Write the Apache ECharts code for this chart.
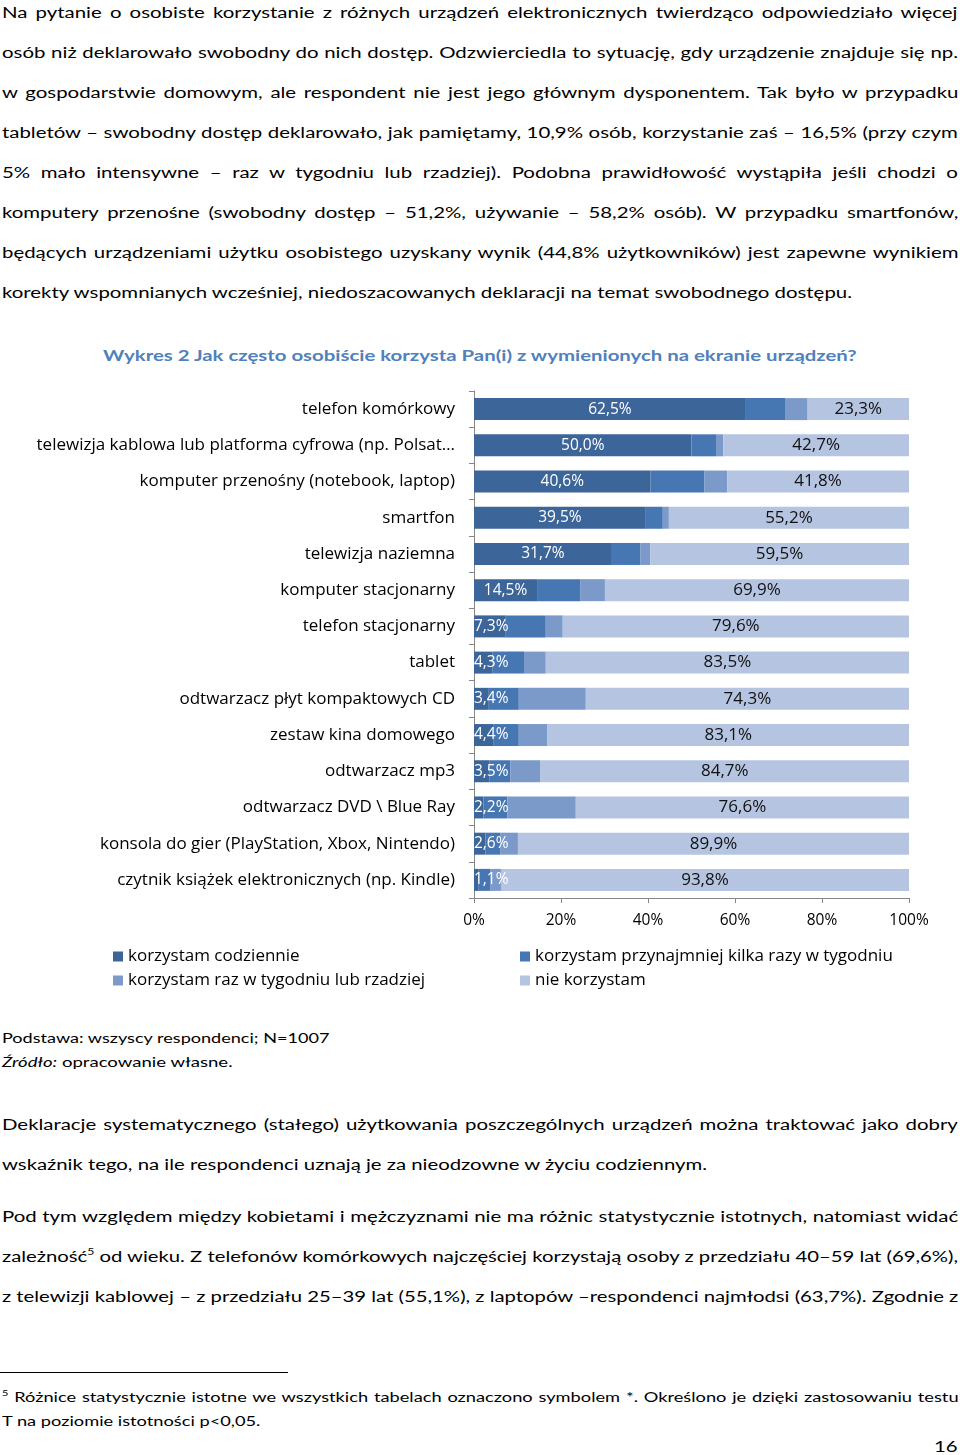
<!DOCTYPE html>
<html>
<head>
<meta charset="utf-8">
<script src="https://cdn.jsdelivr.net/npm/echarts@6/dist/echarts.min.js"></script>
<style>
body{margin:0;width:960px;height:1455px;position:relative;background:#fff;font-family:Lato,'Noto Sans',sans-serif;color:#000;overflow:hidden}
.ln{position:absolute;left:2px;white-space:nowrap;line-height:24px;height:24px;transform-origin:0 50%}
.ln span{display:inline-block}
.ln sup{font-size:0.6em;line-height:0;vertical-align:0.75em}
.body{font-size:15.5px}
.small{font-size:13.5px}
.title{font-size:15.5px;font-weight:bold;color:#4f81bd}
#rule{position:absolute;left:0;top:1372px;width:288px;height:1px;background:#000}
#chart{position:absolute;left:0;top:380px;width:960px;height:640px}
</style>
</head>
<body>
<div id="chart"></div>
<div id="rule"></div>
<script>
// ---- chart data ----
const categories = [
  'telefon komórkowy',
  'telewizja kablowa lub platforma cyfrowa (np. Polsat…',
  'komputer przenośny (notebook, laptop)',
  'smartfon',
  'telewizja naziemna',
  'komputer stacjonarny',
  'telefon stacjonarny',
  'tablet',
  'odtwarzacz płyt kompaktowych CD',
  'zestaw kina domowego',
  'odtwarzacz mp3',
  'odtwarzacz DVD \\ Blue Ray',
  'konsola do gier (PlayStation, Xbox, Nintendo)',
  'czytnik książek elektronicznych (np. Kindle)'
];
const seriesNames = [
  'korzystam codziennie',
  'korzystam przynajmniej kilka razy w tygodniu',
  'korzystam raz w tygodniu lub rzadziej',
  'nie korzystam'
];
const daily          = [62.5, 50.0, 40.6, 39.5, 31.7, 14.5, 7.3, 4.3, 3.4, 4.4, 3.5, 2.2, 2.6, 1.1];
const fewTimesWeek   = [9.0, 5.8, 12.4, 3.9, 6.5, 9.9, 9.2, 7.2, 6.9, 5.9, 4.9, 5.5, 3.4, 2.6];
const onceWeekOrLess = [5.2, 1.5, 5.2, 1.4, 2.3, 5.7, 3.9, 5.0, 15.4, 6.6, 6.9, 15.7, 4.1, 2.5];
const notUsing       = [23.3, 42.7, 41.8, 55.2, 59.5, 69.9, 79.6, 83.5, 74.3, 83.1, 84.7, 76.6, 89.9, 93.8];
const xTicks = [0, 20, 40, 60, 80, 100];

// ---- page text ----
const lines = [
 {t:'Na pytanie o osobiste korzystanie z różnych urządzeń elektronicznych twierdząco odpowiedziało więcej', y:12, c:'body', j:1},
 {t:'osób niż deklarowało swobodny do nich dostęp. Odzwierciedla to sytuację, gdy urządzenie znajduje się np.', y:52, c:'body', j:1},
 {t:'w gospodarstwie domowym, ale respondent nie jest jego głównym dysponentem. Tak było w przypadku', y:92, c:'body', j:1},
 {t:'tabletów – swobodny dostęp deklarowało, jak pamiętamy, 10,9% osób, korzystanie zaś – 16,5% (przy czym', y:132, c:'body', j:1},
 {t:'5% mało intensywne – raz w tygodniu lub rzadziej). Podobna prawidłowość wystąpiła jeśli chodzi o', y:172, c:'body', j:1},
 {t:'komputery przenośne (swobodny dostęp – 51,2%, używanie – 58,2% osób). W przypadku smartfonów,', y:212, c:'body', j:1},
 {t:'będących urządzeniami użytku osobistego uzyskany wynik (44,8% użytkowników) jest zapewne wynikiem', y:252, c:'body', j:1},
 {t:'korekty wspomnianych wcześniej, niedoszacowanych deklaracji na temat swobodnego dostępu.', y:292, c:'body', end:852, ref:1},
 {t:'Wykres 2 Jak często osobiście korzysta Pan(i) z wymienionych na ekranie urządzeń?', y:355, c:'title', left:103, end:857},
 {t:'Podstawa: wszyscy respondenci; N=1007', y:1038, c:'small', end:330},
 {t:'<i>Źródło:</i> opracowanie własne.', y:1062, c:'small', end:233},
 {t:'Deklaracje systematycznego (stałego) użytkowania poszczególnych urządzeń można traktować jako dobry', y:1124, c:'body', j:1},
 {t:'wskaźnik tego, na ile respondenci uznają je za nieodzowne w życiu codziennym.', y:1164, c:'body', end:707},
 {t:'Pod tym względem między kobietami i mężczyznami nie ma różnic statystycznie istotnych, natomiast widać', y:1216, c:'body', j:1},
 {t:'zależność<sup>5</sup> od wieku. Z telefonów komórkowych najczęściej korzystają osoby z przedziału 40–59 lat (69,6%),', y:1256, c:'body', j:1},
 {t:'z telewizji kablowej – z przedziału 25–39 lat (55,1%), z laptopów –respondenci najmłodsi (63,7%). Zgodnie z', y:1296, c:'body', j:1},
 {t:'<sup>5</sup> Różnice statystycznie istotne we wszystkich tabelach oznaczono symbolem *. Określono je dzięki zastosowaniu testu', y:1397, c:'small', j:1},
 {t:'T na poziomie istotności p&lt;0,05.', y:1421, c:'small', end:260, ref:1},
 {t:'16', y:1446, c:'body', right:958}
];

const els = lines.map(l => {
  const d = document.createElement('div');
  d.className = 'ln ' + l.c;
  d.style.top = (l.y - 12) + 'px';
  if (l.left != null) d.style.left = l.left + 'px';
  d.innerHTML = '<span>' + l.t + '</span>';
  document.body.appendChild(d);
  return d;
});
function fit() {
  els.forEach(el => { el.style.transform = 'none'; el.firstChild.style.wordSpacing = '0px'; });
  const scale = {};
  lines.forEach((l, i) => {
    if (l.ref) scale[l.c] = (l.end - 2) / els[i].firstChild.offsetWidth;
  });
  scale.title = scale.body;
  lines.forEach((l, i) => {
    const el = els[i];
    const span = el.firstChild;
    const w = span.offsetWidth;
    const S = scale[l.c] || 1.3;
    if (l.j) {
      const spaces = (span.textContent.match(/ /g) || []).length;
      const need = 956 / S - w;
      if (need >= 0 && spaces) {
        span.style.wordSpacing = (need / spaces) + 'px';
        el.style.transform = 'scaleX(' + S + ')';
      } else {
        el.style.transform = 'scaleX(' + (956 / w) + ')';
      }
    } else if (l.right != null) {
      el.style.left = (l.right - w * S) + 'px';
      el.style.transform = 'scaleX(' + S + ')';
    } else {
      const left = l.left != null ? l.left : 2;
      el.style.transform = 'scaleX(' + ((l.end - left) / w) + ')';
    }
  });
}
fit();
if (document.fonts && document.fonts.ready) document.fonts.ready.then(fit);

// ---- chart ----
const colors = ['#3c6599', '#4777b3', '#7b9aca', '#b5c4e0'];
const fmt = p => p.value.toFixed(1).replace('.', ',') + '%';
const FF = '"Open Sans", Lato, sans-serif';
const chart = echarts.init(document.getElementById('chart'), null, {renderer: 'canvas'});
const dailyData = daily.map(v => v < 9 ? {value: v, label: {position: 'insideLeft', distance: 0}} : v);
const legendBase = {orient: 'vertical', top: 563, icon: 'rect', itemWidth: 10, itemHeight: 10, itemGap: 7,
  textStyle: {fontSize: 17, color: '#000', fontFamily: FF}};
chart.setOption({
  animation: false,
  color: colors,
  textStyle: {fontFamily: FF},
  grid: {left: 474, top: 11, width: 435, height: 507},
  legend: [
    Object.assign({data: [seriesNames[0], seriesNames[2]], left: 108}, legendBase),
    Object.assign({data: [seriesNames[1], seriesNames[3]], left: 515}, legendBase)
  ],
  xAxis: {
    type: 'value', min: xTicks[0], max: xTicks[xTicks.length - 1], interval: xTicks[1] - xTicks[0],
    axisLine: {show: true, lineStyle: {color: '#868686'}},
    axisTick: {show: true, length: 5, lineStyle: {color: '#868686'}},
    splitLine: {show: false},
    axisLabel: {formatter: '{value}%', fontSize: 15.5, color: '#000', margin: 15, fontFamily: FF}
  },
  yAxis: {
    type: 'category', data: categories, inverse: true,
    axisLine: {show: true, lineStyle: {color: '#868686'}},
    axisTick: {show: true, length: 5, lineStyle: {color: '#868686'}},
    axisLabel: {fontSize: 17, color: '#000', margin: 19, fontFamily: FF}
  },
  series: [
    {name: seriesNames[0], type: 'bar', stack: 'a', barWidth: 22, data: dailyData,
     label: {show: true, position: 'inside', color: '#fff', fontSize: 15.5, fontFamily: FF, formatter: fmt}},
    {name: seriesNames[1], type: 'bar', stack: 'a', barWidth: 22, data: fewTimesWeek},
    {name: seriesNames[2], type: 'bar', stack: 'a', barWidth: 22, data: onceWeekOrLess},
    {name: seriesNames[3], type: 'bar', stack: 'a', barWidth: 22, data: notUsing,
     label: {show: true, position: 'inside', color: '#111', fontSize: 17, fontFamily: FF, formatter: fmt}}
  ]
});
</script>
</body>
</html>
